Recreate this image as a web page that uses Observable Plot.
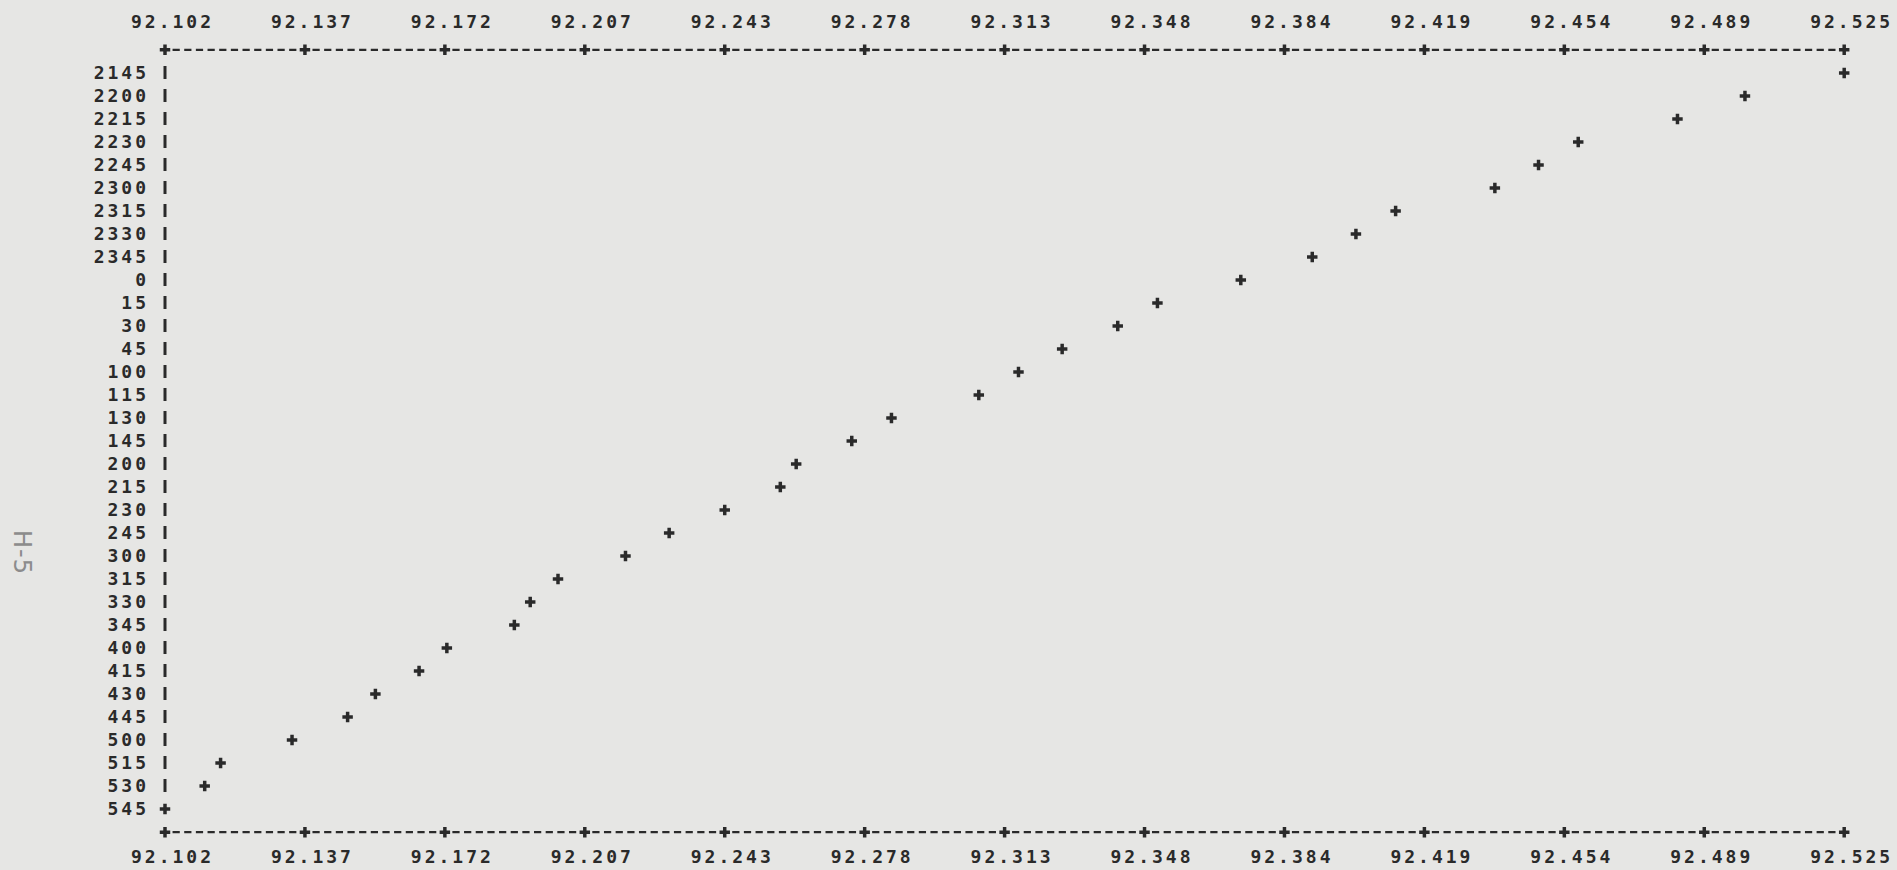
<!DOCTYPE html>
<html>
<head>
<meta charset="utf-8">
<script src="https://cdn.jsdelivr.net/npm/d3@7"></script>
<script src="https://cdn.jsdelivr.net/npm/@observablehq/plot@0.6"></script>
<style>
  html, body { margin: 0; padding: 0; background: #e6e6e4; }
  #wrap { position: relative; width: 1897px; height: 870px; overflow: hidden; background: #e6e6e4; }
  #page { position: absolute; left: 10px; top: 530px; transform-origin: 0 0; transform: translate(26px, 0) rotate(90deg);
          font-family: "DejaVu Sans", sans-serif; font-size: 24px; color: #8c8c8c; letter-spacing: 1px; white-space: nowrap; }
</style>
</head>
<body>
<div id="wrap"><div id="page">H-5</div></div>
<script>
// Time of day (row labels, top to bottom)
const times = ["2145","2200","2215","2230","2245","2300","2315","2330","2345","0","15","30","45",
  "100","115","130","145","200","215","230","245","300","315","330","345",
  "400","415","430","445","500","515","530","545"];
// Plotted value for each row
const values = [92.525, 92.500, 92.483, 92.458, 92.448, 92.437, 92.412, 92.402, 92.391, 92.373,
  92.352, 92.342, 92.328, 92.317, 92.307, 92.285, 92.275, 92.261, 92.257, 92.243, 92.229,
  92.218, 92.201, 92.194, 92.190, 92.173, 92.166, 92.155, 92.148, 92.134, 92.116, 92.112, 92.102];
// Printed scale labels (top and bottom)
const xTickLabels = ["92.102","92.137","92.172","92.207","92.243","92.278","92.313","92.348",
  "92.384","92.419","92.454","92.489","92.525"];

const rows = times.map((t, i) => ({time: t, value: values[i]}));
const xMin = +xTickLabels[0], xMax = +xTickLabels[xTickLabels.length - 1];
const nInt = xTickLabels.length - 1;
const xTicks = xTickLabels.map((_, k) => xMin + k * (xMax - xMin) / nInt);
const labelOf = new Map(xTicks.map((v, k) => [v, xTickLabels[k]]));

const W = 1897, H = 870, mt = 46, mb = 35, ml = 164.5, mr = 53.3;
const step = (H - mt - mb) / (times.length + 1);
const ink = "#2a2a2a";
const cell = (W - ml - mr) / nInt / 12;

const dashStyle = {stroke: ink, strokeWidth: 2.2, strokeDasharray: `${(cell*0.62).toFixed(2)} ${(cell*0.38).toFixed(2)}`, strokeDashoffset: (cell*0.31).toFixed(2)};
const plusStyle = {symbol: "cross", r: 4.4, fill: ink, stroke: "none"};

const chart = Plot.plot({
  width: W, height: H,
  marginTop: mt, marginBottom: mb, marginLeft: ml, marginRight: mr,
  style: {background: "transparent", fontFamily: "'DejaVu Sans Mono', monospace", fontWeight: "bold", fontSize: "18px", letterSpacing: "3px", color: ink},
  x: {domain: [xMin, xMax], label: null},
  y: {type: "band", domain: times, paddingInner: 0.44, paddingOuter: 0.72, label: null},
  marks: [
    Plot.ruleY([times[0]], {...dashStyle, dy: -step}),
    Plot.ruleY([times[times.length - 1]], {...dashStyle, dy: step}),
    Plot.dot(xTicks, {x: d => d, y: () => times[0], dy: -step, ...plusStyle}),
    Plot.dot(xTicks, {x: d => d, y: () => times[times.length - 1], dy: step, ...plusStyle}),
    Plot.tickX(rows.filter(d => d.value !== xMin), {x: () => xMin, y: "time", stroke: ink, strokeWidth: 3}),
    Plot.dot(rows, {x: "value", y: "time", ...plusStyle}),
    Plot.axisX({anchor: "top", ticks: xTicks, tickFormat: d => labelOf.get(d), tickSize: 0, tickPadding: 19, dx: 7.5, fill: ink, label: null}),
    Plot.axisX({anchor: "bottom", ticks: xTicks, tickFormat: d => labelOf.get(d), tickSize: 0, tickPadding: 15, dx: 7.5, fill: ink, label: null}),
    Plot.axisY({anchor: "left", tickSize: 0, tickPadding: 16, fill: ink, label: null})
  ]
});
document.getElementById("wrap").appendChild(chart);
chart.style.position = "absolute";
chart.style.left = "0px";
chart.style.top = "0px";
</script>
</body>
</html>
